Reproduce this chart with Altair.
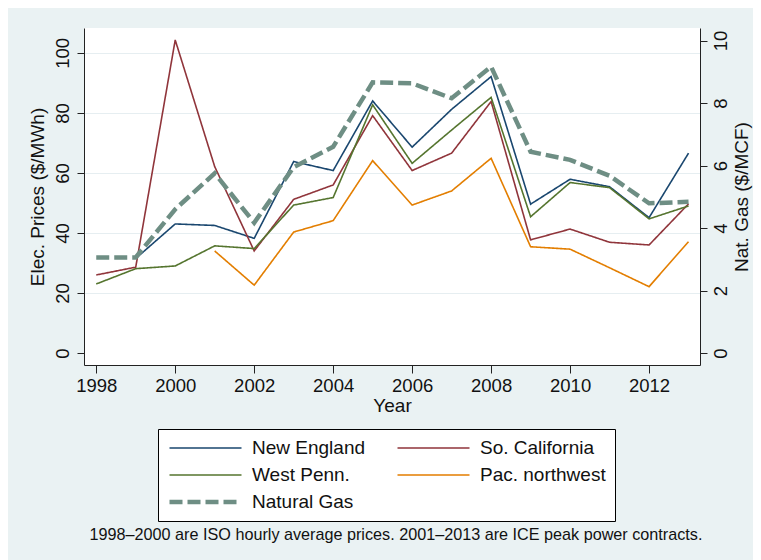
import altair as alt
import pandas as pd

years = list(range(1998, 2014))
new_england = [None, 31.5, 43.0, 42.5, 38.2, 63.8, 60.8, 84.0, 68.6, 81.2, 92.1, 49.6, 57.9, 55.4, 45.1, 66.6]
so_california = [26.0, 28.6, 104.3, 62.1, 34.0, 51.2, 56.0, 79.1, 60.8, 66.6, 83.8, 37.7, 41.3, 36.9, 36.0, 49.7]
west_penn = [23.0, 28.1, 29.0, 35.7, 34.8, 49.3, 51.8, 82.7, 63.2, 74.3, 85.2, 45.4, 56.8, 55.1, 44.7, 49.0]
pac_northwest = [None, None, None, 34.0, 22.6, 40.3, 44.1, 64.1, 49.3, 54.0, 64.9, 35.4, 34.6, 28.4, 22.1, 37.1]
natural_gas = [3.06, 3.06, 4.6, 5.75, 4.17, 5.95, 6.6, 8.66, 8.63, 8.15, 9.16, 6.44, 6.18, 5.67, 4.79, 4.84]

series_names = ["New England", "So. California", "West Penn.", "Pac. northwest", "Natural Gas"]
series_colors = ["#1A476F", "#90353B", "#55752F", "#E37E00", "#6E8E84"]
series_dash = [[1, 0], [1, 0], [1, 0], [1, 0], [13, 5]]
series_width = [1.6, 1.6, 1.6, 1.6, 4.5]

note = "1998\u20132000 are ISO hourly average prices. 2001\u20132013 are ICE peak power contracts."

rows = []
for name, vals in zip(series_names[:4], [new_england, so_california, west_penn, pac_northwest]):
    for yr, v in zip(years, vals):
        if v is not None:
            rows.append({"Year": yr, "value": v, "series": name})
elec = pd.DataFrame(rows)
gas = pd.DataFrame({"Year": years, "value": natural_gas, "series": "Natural Gas"})

FONT = "Liberation Sans"

x_enc = alt.X("Year:Q",
              scale=alt.Scale(domain=[1997.69, 2013.29], nice=False, zero=False),
              axis=alt.Axis(values=list(range(1998, 2013, 2)), format="d", title="Year",
                            tickSize=8, labelPadding=3, labelFontSize=18.5, titleFontSize=19,
                            grid=False, titleY=40, titleX=308, titleBaseline="middle",
                            titleFontWeight="normal"))

color_enc = alt.Color("series:N",
                      scale=alt.Scale(domain=series_names, range=series_colors),
                      legend=alt.Legend(title=None, orient="none", legendX=74, legendY=401,
                                        columns=2, direction="horizontal",
                                        symbolType="stroke", symbolSize=5184,
                                        clipHeight=20, rowPadding=7, columnPadding=29,
                                        labelFontSize=19, labelOffset=8, padding=9,
                                        strokeColor="black", fillColor="white",
                                        labelFont=FONT, labelColor="#111"))
dash_enc = alt.StrokeDash("series:N", scale=alt.Scale(domain=series_names, range=series_dash),
                          legend=None)
width_enc = alt.StrokeWidth("series:N",
                            scale=alt.Scale(type="ordinal", domain=series_names, range=series_width),
                            legend=None)

left = alt.Chart(elec).mark_line().encode(
    x=x_enc,
    y=alt.Y("value:Q",
            scale=alt.Scale(domain=[-4, 108.3], nice=False, zero=False),
            axis=alt.Axis(orient="left", values=[0, 20, 40, 60, 80, 100],
                          title="Elec. Prices ($/MWh)", labelAngle=270, labelAlign="center",
                          labelBaseline="bottom", tickSize=7, labelPadding=5,
                          labelFontSize=18.5, titleFontSize=19, titleAngle=270,
                          titleX=-47, titleY=168.5, titleAlign="center", titleBaseline="middle",
                          grid=True,
                          gridColor={"condition": {"test": "datum.value === 0", "value": "white"},
                                     "value": "#E6EEF1"},
                          gridWidth=1.2,
                          titleFontWeight="normal")),
    color=color_enc,
    strokeDash=dash_enc,
    strokeWidth=width_enc,
)

right = alt.Chart(gas).mark_line().encode(
    x=x_enc,
    y=alt.Y("value:Q",
            scale=alt.Scale(domain=[-0.384, 10.4], nice=False, zero=False),
            axis=alt.Axis(orient="right", values=[0, 2, 4, 6, 8, 10],
                          title="Nat. Gas ($/MCF)", labelAngle=270, labelAlign="center",
                          labelBaseline="top", tickSize=7, labelPadding=4,
                          labelFontSize=18.5, titleFontSize=19, titleAngle=270,
                          titleX=41, titleY=168.5, titleAlign="center", titleBaseline="middle",
                          grid=False, titleFontWeight="normal")),
    color=color_enc,
    strokeDash=dash_enc,
    strokeWidth=width_enc,
)

note_layer = alt.Chart(pd.DataFrame({"t": [note]})).mark_text(
    fontSize=16.2, font=FONT, color="#111", align="center", baseline="middle"
).encode(x=alt.value(312), y=alt.value(507), text="t:N")

chart = alt.layer(left, right, note_layer).resolve_scale(y="independent").properties(
    width=616, height=337,
    background="#EAF2F3",
    padding={"left": 76, "top": 20, "right": 53, "bottom": 195},
    autosize=alt.AutoSizeParams(type="none"),
).configure_view(fill="white", stroke=None).configure_axis(
    labelFont=FONT, titleFont=FONT, labelColor="#111", titleColor="#111",
    domainColor="#222", tickColor="#222", domainWidth=1, tickWidth=1,
).configure_legend(labelFont=FONT)

chart.save("out.html", embed_options={"renderer": "svg", "actions": False})
